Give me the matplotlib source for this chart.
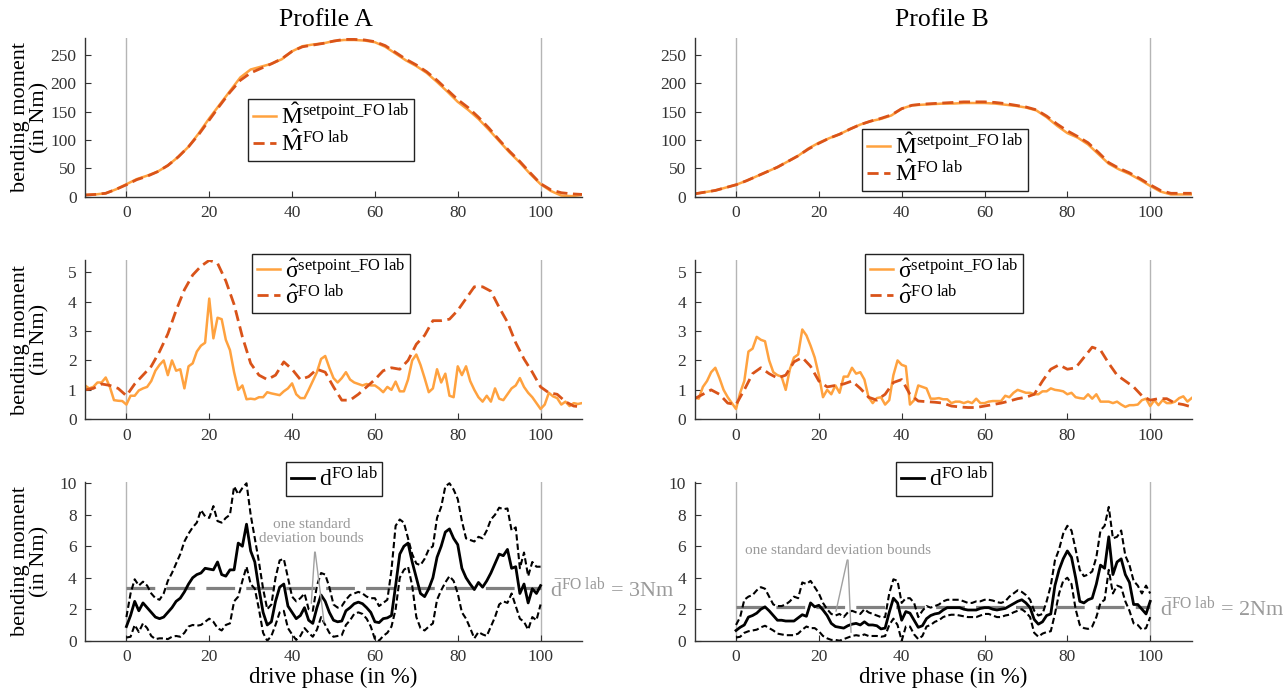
import numpy as np
import matplotlib
matplotlib.use("Agg")
import matplotlib.pyplot as plt

plt.rcParams['font.family'] = ['Liberation Serif', 'DejaVu Serif']
plt.rcParams['mathtext.fontset'] = 'custom'
plt.rcParams['mathtext.rm'] = 'Liberation Serif'
plt.rcParams['mathtext.it'] = 'Liberation Serif:italic'
plt.rcParams['mathtext.bf'] = 'Liberation Serif:bold'

# ---- data ----
x_top = np.arange(-10, 110.1, 2.5)
mA_set = [3, 4, 6, 13, 22, 31, 37, 44, 55, 70, 88, 112, 138, 162, 186, 210, 224, 229, 234, 242,
          256, 265, 268, 270, 274, 276, 276, 275, 272, 264, 252, 240, 230, 218, 202, 185, 167, 153,
          137, 118, 98, 78, 60, 40, 22, 10, 2, 1, 3]
mA_lab = [3, 4, 6, 13, 21, 30, 36, 44, 55, 70, 88, 110, 135, 160, 184, 205, 218, 226, 234, 243,
          256, 264, 267, 270, 274, 277, 277, 276, 273, 266, 254, 242, 232, 220, 205, 188, 171, 157,
          140, 121, 100, 80, 62, 42, 23, 12, 7, 5, 4]
mB_set = [5, 8, 11, 16, 21, 28, 36, 44, 52, 62, 72, 85, 95, 103, 110, 119, 127, 133, 137, 143,
          155, 161, 162, 163, 164, 164, 165, 165, 165, 164, 162, 160, 157, 152, 140, 125, 112, 104,
          92, 75, 58, 48, 40, 30, 19, 9, 4, 4, 4]
mB_lab = [5, 8, 11, 16, 21, 28, 36, 44, 52, 62, 72, 84, 94, 103, 110, 119, 127, 133, 138, 144,
          155, 161, 163, 164, 165, 166, 167, 167, 167, 166, 164, 161, 158, 153, 142, 128, 116, 106,
          95, 78, 60, 50, 42, 32, 21, 11, 6, 6, 6]

x_sig = np.arange(-10, 111, 1)
sA_set = [1.15, 1.05, 1.1, 1.25, 1.25, 1.42, 1.1, 0.65, 0.63, 0.62,
          0.5, 0.8, 0.8, 0.98, 1.05, 1.1, 1.3, 1.65, 1.85, 2.0,
          1.5, 2.0, 1.65, 1.7, 1.05, 1.8, 1.9, 2.3, 2.5, 2.6,
          4.1, 2.75, 3.45, 3.4, 2.7, 2.35, 1.6, 1.0, 1.15, 0.68,
          0.7, 0.68, 0.75, 0.75, 0.92, 0.88, 0.85, 0.82, 0.95, 1.05,
          1.22, 0.85, 0.72, 0.72, 1.0, 1.3, 1.6, 2.05, 2.15, 1.75,
          1.4, 1.25, 1.4, 1.6, 1.35, 1.25, 1.2, 1.15, 1.2, 1.15,
          1.15, 1.05, 0.92, 1.1, 1.0, 1.28, 0.95, 0.95, 1.35, 2.0,
          2.2, 1.85, 1.4, 0.92, 1.05, 1.7, 1.25, 1.55, 0.8, 0.75,
          1.8, 1.5, 1.8, 1.3, 1.0, 0.75, 0.6, 0.8, 0.6, 1.05,
          0.7, 0.65, 0.85, 1.05, 1.15, 1.4, 1.1, 0.9, 0.75, 0.55,
          0.35, 0.5, 0.9, 0.78, 0.72, 0.5, 0.6, 0.45, 0.55, 0.52, 0.55]
sB_set = [0.75, 0.7, 1.1, 1.3, 1.6, 1.75, 1.4, 1.0, 0.75, 0.55,
          0.35, 0.9, 1.3, 2.3, 2.4, 2.8, 2.7, 2.65, 2.0, 1.6,
          1.5, 1.45, 1.0, 1.7, 2.1, 2.2, 3.05, 2.85, 2.5, 2.1,
          1.5, 0.75, 1.0, 0.85, 1.15, 0.9, 1.45, 1.45, 1.75, 1.55,
          1.6, 1.35, 0.75, 0.55, 0.72, 0.75, 0.5, 0.65, 1.5, 2.0,
          1.85, 1.8, 0.5, 0.65, 1.15, 1.1, 1.05, 0.7, 0.7, 0.72,
          0.68, 0.68, 0.55, 0.6, 0.6, 0.55, 0.6, 0.55, 0.7, 0.55,
          0.55, 0.6, 0.62, 0.62, 0.62, 0.8, 0.75, 0.9, 1.0, 0.95,
          0.9, 0.9, 0.85, 0.85, 0.95, 0.95, 1.05, 1.0, 0.98, 0.95,
          0.85, 0.9, 0.75, 0.72, 0.7, 0.85, 0.7, 0.85, 0.6, 0.6,
          0.6, 0.55, 0.6, 0.5, 0.42, 0.48, 0.48, 0.5, 0.65, 0.7,
          0.45, 0.65, 0.48, 0.65, 0.55, 0.55, 0.6, 0.72, 0.78, 0.6, 0.72]

x_sig2 = np.arange(-10, 111, 2)
sA_lab = [1.0, 1.05, 1.2, 1.15, 1.05, 0.8, 1.2, 1.5, 1.8, 2.3,
          2.9, 3.7, 4.4, 4.9, 5.2, 5.4, 5.3, 4.7, 3.9, 2.8,
          1.9, 1.5, 1.35, 1.5, 1.95, 1.7, 1.35, 1.45, 1.7, 1.6,
          1.1, 0.65, 0.65, 0.85, 1.1, 1.35, 1.65, 1.75, 1.7, 2.0,
          2.55, 2.85, 3.35, 3.35, 3.4, 3.7, 4.1, 4.5, 4.5, 4.35,
          3.8, 3.3, 2.6, 2.05, 1.6, 1.1, 0.9, 0.85, 0.6, 0.45, 0.42]
sB_lab = [0.7, 0.85, 1.0, 0.85, 0.55, 0.5, 1.0, 1.55, 1.75, 1.55,
          1.4, 1.5, 1.95, 2.1, 1.8, 1.3, 1.1, 1.15, 1.2, 1.3,
          1.05, 0.75, 0.65, 0.85, 1.25, 1.35, 0.85, 0.62, 0.6, 0.58,
          0.55, 0.45, 0.42, 0.4, 0.4, 0.45, 0.5, 0.55, 0.62, 0.7,
          0.75, 0.85, 1.3, 1.7, 1.85, 1.7, 1.75, 2.1, 2.45, 2.35,
          1.9, 1.5, 1.3, 1.1, 0.8, 0.65, 0.7, 0.7, 0.55, 0.5, 0.42]

x_d = np.arange(0, 101, 1)
dA_mean = [0.9, 1.6, 2.5, 1.9, 2.4, 2.1, 1.8, 1.5, 1.4, 1.5,
           1.8, 2.1, 2.5, 2.7, 3.1, 3.6, 4.0, 4.2, 4.3, 4.6,
           4.55, 4.5, 5.0, 4.2, 4.1, 4.5, 4.5, 6.2, 6.0, 7.4,
           5.7, 5.0, 3.3, 1.8, 1.0, 1.2, 2.5, 3.4, 3.6, 2.2,
           1.8, 1.4, 1.6, 2.1, 1.3, 1.1, 2.1, 2.9, 2.5, 1.8,
           1.3, 1.2, 1.25, 1.9, 2.1, 2.35, 2.45, 2.35, 2.1, 1.8,
           1.2, 1.15, 1.4, 1.45, 1.6, 3.5, 5.5, 6.0, 6.2, 5.0,
           4.0, 3.0, 2.8, 3.3, 4.0, 5.3, 6.0, 6.9, 7.1, 6.5,
           6.1, 4.6, 4.0, 3.6, 3.25, 3.7, 3.4, 3.8, 4.3, 4.9,
           5.5, 5.4, 5.8, 4.6, 4.7, 3.0, 3.6, 2.4, 3.3, 3.0, 3.5]
dA_up = [1.5, 3.0, 3.9, 3.5, 3.75, 3.5, 3.0, 2.7, 2.6, 3.0,
         3.8, 4.3, 4.9, 5.5, 6.3, 6.8, 7.2, 7.5, 8.3, 7.9,
         7.8, 8.55, 7.6, 7.5, 7.8, 8.0, 9.8, 9.3, 9.7, 10.0,
         8.0, 6.5, 5.0, 3.3, 2.0, 2.3, 4.0, 5.1, 5.2, 4.0,
         2.8, 2.5, 2.7, 3.0, 2.0, 1.9, 3.5, 4.3, 4.2, 3.4,
         2.3, 2.1, 2.2, 2.6, 2.9, 3.0, 3.1, 3.0, 2.8, 2.7,
         2.7, 2.2, 2.4, 2.6, 4.5, 7.3, 7.7, 7.5, 6.5, 5.5,
         4.9, 4.8, 5.2, 5.8, 6.0, 7.8, 8.5, 9.8, 10.0, 9.6,
         9.0, 7.6, 6.5, 6.4, 6.3, 6.6, 6.5, 7.0, 7.7, 8.0,
         8.45, 8.35, 8.4, 7.0, 7.2, 4.6, 5.6, 4.1, 5.0, 4.7, 4.7]
dA_lo = [0.2, 0.25, 1.0, 0.55, 1.1, 0.8, 0.3, 0.1, 0.15, 0.15,
         0.1, 0.25, 0.3, 0.25, 0.5, 0.9, 1.0, 0.95, 1.0, 1.2,
         1.4, 1.2, 0.8, 0.65, 1.0, 1.1, 2.5, 2.8, 3.8, 4.7,
         3.6, 3.3, 2.0, 0.5, 0.0, 0.3, 1.0, 1.8, 1.9, 0.8,
         0.4, 0.05, 0.3, 0.8, 0.5, 0.25, 0.7, 1.5, 1.0, 0.5,
         0.25, 0.3, 0.35, 1.0, 1.3, 1.7, 1.8, 1.7, 1.4, 0.9,
         0.1, 0.0, 0.3, 0.5, 0.9, 2.0, 4.0, 4.5, 4.7, 3.5,
         1.5, 0.8, 0.65, 0.9, 1.1, 2.6, 3.2, 3.7, 4.1, 3.8,
         3.0, 1.8, 1.4, 0.8, 0.15, 0.55, 0.4, 0.3, 0.9, 1.5,
         2.3, 2.5, 2.4, 3.0, 2.2, 1.4, 1.2, 0.7, 1.5, 1.3, 2.3]
dB_mean = [0.65, 0.85, 1.0, 1.5, 1.6, 1.75, 2.0, 2.15, 1.9, 1.6,
           1.3, 1.3, 1.25, 1.25, 1.25, 1.45, 1.65, 1.55, 2.4, 2.15,
           2.25, 1.95, 1.6, 1.1, 0.9, 0.85, 0.8, 0.95, 1.05, 1.1,
           1.0, 1.2, 1.0, 1.0, 0.95, 0.75, 0.8, 1.8, 2.7, 2.4,
           1.3, 1.85, 1.75, 1.3, 0.85, 0.95, 1.4, 1.6, 1.7, 1.75,
           1.95, 2.1, 2.1, 2.1, 2.1, 2.0, 1.95, 1.95, 1.95, 2.05,
           2.1, 2.1, 2.0, 1.95, 2.0, 2.05, 2.2, 2.35, 2.5, 2.6,
           2.4, 2.1, 1.35, 1.05, 1.2, 1.6, 1.7, 3.5, 4.5, 5.2,
           5.7, 5.3, 4.0, 2.5, 2.4, 2.6, 2.7, 3.6, 4.8, 4.6,
           6.6, 4.2, 5.0, 5.2, 4.2, 3.7, 2.3, 2.3, 2.0, 1.7, 2.5]
dB_up = [1.0, 1.5, 2.6, 2.8, 2.9, 3.2, 3.4, 3.3, 2.8, 2.3,
         2.2, 2.2, 2.3, 2.5, 2.8, 2.7, 3.7, 3.6, 3.8, 3.4,
         3.0, 2.4, 2.0, 1.7, 1.6, 1.7, 1.5, 1.8, 1.9, 1.8,
         1.7, 2.0, 1.8, 1.7, 1.6, 1.5, 1.5, 3.0, 3.9, 3.8,
         2.4, 2.7, 2.7, 2.4, 1.5, 1.9, 2.2, 2.1, 2.2, 2.3,
         2.5, 2.6, 2.6, 2.6, 2.6, 2.5, 2.4, 2.4, 2.5, 2.5,
         2.6, 2.6, 2.55, 2.45, 2.4, 2.5, 2.8, 3.0, 3.2, 3.1,
         2.9, 2.6, 1.9, 1.6, 1.7, 2.5, 3.5, 5.1, 5.8, 6.8,
         7.3, 7.0, 5.8, 4.5, 4.1, 4.2, 4.4, 5.3, 7.0, 7.3,
         8.5, 6.5, 6.6, 7.0, 5.4, 4.8, 3.8, 3.5, 3.0, 3.5, 3.0]
dB_lo = [0.2, 0.25, 0.5, 0.6, 0.65, 0.7, 0.85, 0.95, 0.8, 0.65,
         0.45, 0.4, 0.35, 0.35, 0.35, 0.45, 0.7, 0.9, 0.8, 0.8,
         0.6, 0.3, 0.15, 0.05, 0.05, 0.0, 0.1, 0.2, 0.3, 0.35,
         0.3, 0.4, 0.3, 0.3, 0.3, 0.25, 0.3, 1.0, 1.4, 1.0,
         0.0, 0.9, 0.9, 0.4, 0.1, 0.3, 0.9, 1.0, 1.2, 1.3,
         1.5, 1.6, 1.65, 1.65, 1.6, 1.55, 1.5, 1.5, 1.5, 1.6,
         1.7, 1.7, 1.6, 1.5, 1.5, 1.6, 1.65, 1.8, 1.9, 2.0,
         1.8, 1.5, 0.5, 0.25, 0.45, 0.55, 0.6, 1.7, 3.0, 3.8,
         4.0, 3.6, 2.0, 1.0, 0.8, 0.75, 0.9, 1.5, 2.4, 2.6,
         4.5, 3.0, 3.5, 3.4, 2.5, 1.9, 1.1, 1.0, 0.7, 0.8, 1.5]

dA_avg = 3.35
dB_avg = 2.14
avg_labels = ['3Nm', '2Nm']

c_set = '#FFA23F'
c_lab = '#D95319'
grey_txt = '#9a9a9a'

fig = plt.figure(figsize=(12.83, 6.94), dpi=100)

lefts = [85 / 1283, 694.6 / 1283]
w = 497 / 1283
bottoms = [1 - 196.7 / 694, 1 - 419.3 / 694, 1 - 640.7 / 694]
h = 159 / 694


def style(ax, ylim, yticks):
    ax.set_xlim(-10, 110)
    ax.set_ylim(*ylim)
    ax.set_xticks([0, 20, 40, 60, 80, 100])
    ax.set_yticks(yticks)
    for s in ['top', 'right']:
        ax.spines[s].set_visible(False)
    for s in ['left', 'bottom']:
        ax.spines[s].set_color('#333333')
        ax.spines[s].set_linewidth(1.0)
    ax.tick_params(direction='in', length=4, labelsize=12.5, colors='#333333', pad=6)
    ax.axvline(0, color='#b5b5b5', lw=1, zorder=0)
    ax.axvline(100, color='#b5b5b5', lw=1, zorder=0)


def leg(ax, x0, y0):
    lg = ax.legend(loc='upper left', bbox_to_anchor=(x0, y0), borderaxespad=0,
                   fancybox=False, framealpha=1, edgecolor='#222222', fontsize=17,
                   handlelength=1.0, handletextpad=0.2, borderpad=0.2, labelspacing=0.08)
    lg.get_frame().set_linewidth(1.0)
    return lg


def ylab(ax):
    ax.set_ylabel('bending moment\n(in Nm)', fontsize=16, linespacing=1.0)
    ax.yaxis.set_label_coords(-0.071, 0.5)


M_set_lbl = r'$\hat{\mathrm{M}}^{\mathrm{setpoint\_FO\ lab}}$'
M_lab_lbl = r'$\hat{\mathrm{M}}^{\mathrm{FO\ lab}}$'
s_set_lbl = r'$\hat{\mathrm{σ}}^{\mathrm{setpoint\_FO\ lab}}$'
s_lab_lbl = r'$\hat{\mathrm{σ}}^{\mathrm{FO\ lab}}$'

sets_top = [(mA_set, mA_lab), (mB_set, mB_lab)]
sets_sig = [(sA_set, sA_lab), (sB_set, sB_lab)]
sets_d = [(dA_mean, dA_up, dA_lo, dA_avg), (dB_mean, dB_up, dB_lo, dB_avg)]
leg_top = [(0.328, 0.617), (0.337, 0.427)]
leg_sig = [(0.336, 1.04), (0.343, 1.04)]
leg_d = [(0.404, 1.124), (0.405, 1.124)]

for j in range(2):
    # top row: moments
    ax = fig.add_axes([lefts[j], bottoms[0], w, h])
    style(ax, (0, 280), [0, 50, 100, 150, 200, 250])
    ax.plot(x_top, sets_top[j][0], color=c_set, lw=1.8, label=M_set_lbl)
    ax.plot(x_top, sets_top[j][1], color=c_lab, lw=2.0, dashes=(4, 2), label=M_lab_lbl)
    leg(ax, *leg_top[j])
    if j == 0:
        ylab(ax)

    # middle row: sigma
    ax = fig.add_axes([lefts[j], bottoms[1], w, h])
    style(ax, (0, 5.4), [0, 1, 2, 3, 4, 5])
    ax.plot(x_sig, sets_sig[j][0], color=c_set, lw=1.8, label=s_set_lbl)
    ax.plot(x_sig2, sets_sig[j][1], color=c_lab, lw=2.0, dashes=(4, 2), label=s_lab_lbl)
    leg(ax, *leg_sig[j])
    if j == 0:
        ylab(ax)

    # bottom row: differences
    mean, up, lo, avg = sets_d[j]
    ax = fig.add_axes([lefts[j], bottoms[2], w, h])
    style(ax, (0, 10.1), [0, 2, 4, 6, 8, 10])
    ax.plot([0, 100], [avg, avg], color='#808080', lw=2.3, dashes=(9, 3.5), zorder=1)
    ax.plot(x_d, up, color='black', lw=1.5, dashes=(3, 1.5), zorder=2)
    ax.plot(x_d, lo, color='black', lw=1.5, dashes=(3, 1.5), zorder=2)
    ax.plot(x_d, mean, color='black', lw=2.0, zorder=3,
            label=r'$\mathrm{d}^{\mathrm{FO\ lab}}$')
    leg(ax, *leg_d[j])
    ax.text(102.3, avg - 0.55, r'$\bar{\mathrm{d}}^{\mathrm{FO\ lab}}$ = ' + avg_labels[j],
            fontsize=16, color=grey_txt, va='baseline', ha='left', clip_on=False)
    ax.set_xlabel('drive phase (in %)', fontsize=16.5, labelpad=1)
    if j == 0:
        ylab(ax)
        ax.text(44.7, 6.95, 'one standard\ndeviation bounds', fontsize=11, color=grey_txt,
                ha='center', va='center', linespacing=1.1)
        ax.annotate('', xy=(44.6, 2.2), xytext=(45.5, 5.8),
                    arrowprops=dict(arrowstyle='-', color='#a0a0a0', lw=1))
        ax.annotate('', xy=(47.8, 1.0), xytext=(45.5, 5.8),
                    arrowprops=dict(arrowstyle='-', color='#a0a0a0', lw=1))
    else:
        ax.text(24.6, 5.75, 'one standard deviation bounds', fontsize=11, color=grey_txt,
                ha='center', va='center')
        ax.annotate('', xy=(24.0, 1.7), xytext=(27.0, 5.3),
                    arrowprops=dict(arrowstyle='-', color='#a0a0a0', lw=1))
        ax.annotate('', xy=(27.8, 0.35), xytext=(27.0, 5.3),
                    arrowprops=dict(arrowstyle='-', color='#a0a0a0', lw=1))

fig.text(326 / 1283, 1 - 20 / 694, 'Profile A', fontsize=18.5, ha='center', va='center')
fig.text(942 / 1283, 1 - 20 / 694, 'Profile B', fontsize=18.5, ha='center', va='center')

fig.savefig('out.png', dpi=100)
